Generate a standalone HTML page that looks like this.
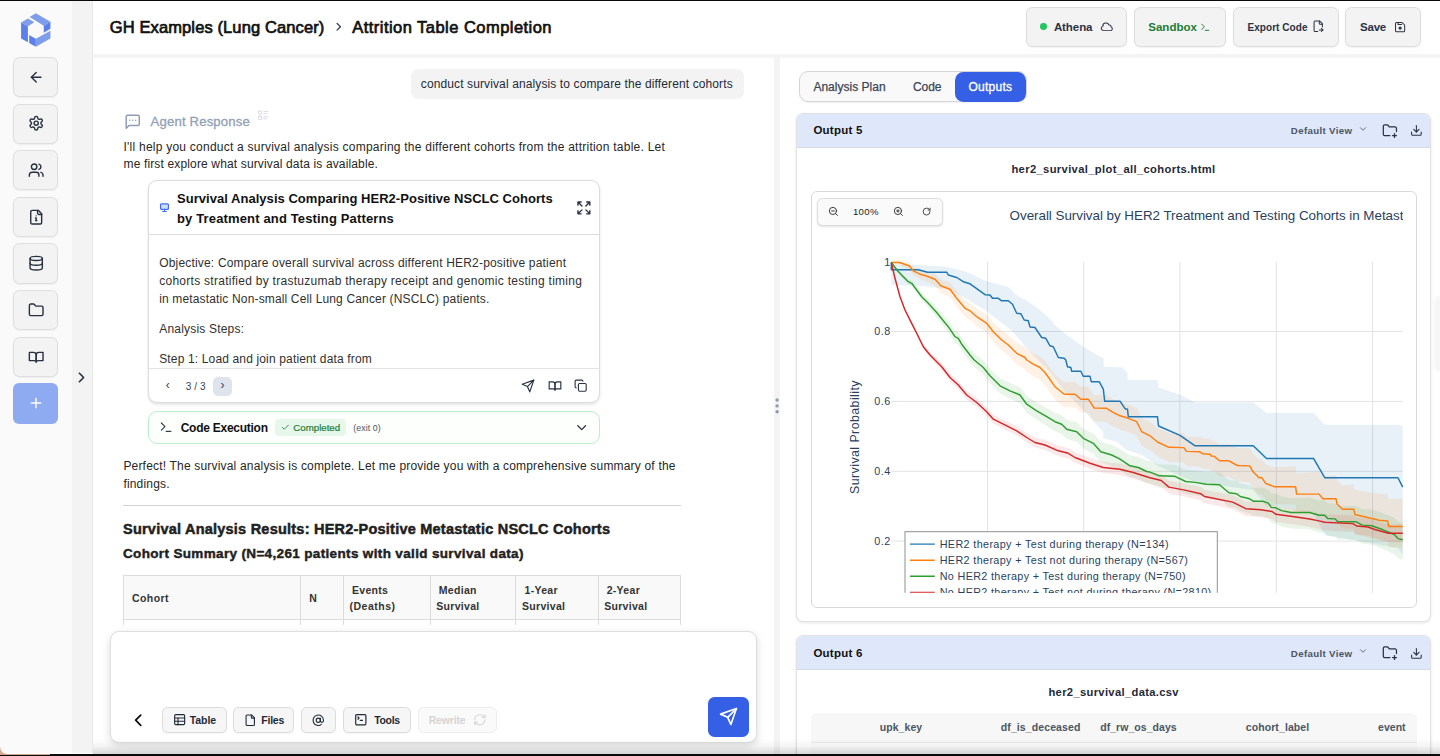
<!DOCTYPE html>
<html><head><meta charset="utf-8"><title>Attrition Table Completion</title>
<style>
html,body{margin:0;padding:0;}
body{width:1440px;height:756px;position:relative;overflow:hidden;background:#fff;font-family:"Liberation Sans",sans-serif;}
.t{position:absolute;white-space:nowrap;line-height:1;font-family:"Liberation Sans",sans-serif;}
.b{position:absolute;box-sizing:border-box;}
.i{position:absolute;overflow:visible;}
</style></head><body>
<div class="b" style="left:0.00px;top:0.00px;width:72.00px;height:756.00px;background:#fafafa;"></div>
<div class="b" style="left:72.00px;top:0.00px;width:21.00px;height:756.00px;background:#f3f3f3;"></div>
<div class="b" style="left:92.00px;top:0.00px;width:1.00px;height:756.00px;background:#e9e9e9;"></div>
<div class="b" style="left:93.00px;top:1.00px;width:1347.00px;height:53.00px;background:#fff;"></div>
<div class="b" style="left:93.00px;top:54.00px;width:1347.00px;height:4.00px;background:#f4f4f4;"></div>
<div class="b" style="left:774.00px;top:58.00px;width:6.40px;height:698.00px;background:#f4f4f4;"></div>
<svg class="i" style="left:0;top:0" width="72" height="56" viewBox="0 0 864 672">
<polygon points="355,205 430,160 605,262 525,308" fill="#7f9de8"/>
<polygon points="525,308 605,262 605,346 525,392" fill="#5c80ea"/>
<polygon points="253,270 335,221 412,266 335,315" fill="#7f9de8"/>
<polygon points="253,270 335,315 335,506 253,462" fill="#5c80ea"/>
<polygon points="350,421 430,466 430,562 350,516" fill="#5c80ea"/>
<polygon points="430,466 605,368 605,462 430,562" fill="#7f9de8"/>
</svg>
<div class="b" style="left:13.00px;top:56.90px;width:45.00px;height:40.20px;background:#f3f3f3;border:1px solid #dedede;border-radius:6.5px;box-shadow:0 1px 1.5px rgba(0,0,0,0.05);"></div>
<svg class="i" style="left:27.60px;top:68.80px;" width="16.4" height="16.4" viewBox="0 0 24 24" fill="none" stroke="#27303f" stroke-width="2.05" stroke-linecap="round" stroke-linejoin="round"><path d="m12 19-7-7 7-7"/><path d="M19 12H5"/></svg>
<div class="b" style="left:13.00px;top:103.54px;width:45.00px;height:40.20px;background:#f3f3f3;border:1px solid #dedede;border-radius:6.5px;box-shadow:0 1px 1.5px rgba(0,0,0,0.05);"></div>
<svg class="i" style="left:27.60px;top:115.44px;" width="16.4" height="16.4" viewBox="0 0 24 24" fill="none" stroke="#27303f" stroke-width="2.05" stroke-linecap="round" stroke-linejoin="round"><path d="M12.22 2h-.44a2 2 0 0 0-2 2v.18a2 2 0 0 1-1 1.73l-.43.25a2 2 0 0 1-2 0l-.15-.08a2 2 0 0 0-2.73.73l-.22.38a2 2 0 0 0 .73 2.73l.15.1a2 2 0 0 1 1 1.72v.51a2 2 0 0 1-1 1.74l-.15.09a2 2 0 0 0-.73 2.73l.22.38a2 2 0 0 0 2.73.73l.15-.08a2 2 0 0 1 2 0l.43.25a2 2 0 0 1 1 1.73V20a2 2 0 0 0 2 2h.44a2 2 0 0 0 2-2v-.18a2 2 0 0 1 1-1.73l.43-.25a2 2 0 0 1 2 0l.15.08a2 2 0 0 0 2.73-.73l.22-.39a2 2 0 0 0-.73-2.73l-.15-.08a2 2 0 0 1-1-1.74v-.5a2 2 0 0 1 1-1.74l.15-.09a2 2 0 0 0 .73-2.73l-.22-.38a2 2 0 0 0-2.73-.73l-.15.08a2 2 0 0 1-2 0l-.43-.25a2 2 0 0 1-1-1.73V4a2 2 0 0 0-2-2z"/><circle cx="12" cy="12" r="3"/></svg>
<div class="b" style="left:13.00px;top:150.18px;width:45.00px;height:40.20px;background:#f3f3f3;border:1px solid #dedede;border-radius:6.5px;box-shadow:0 1px 1.5px rgba(0,0,0,0.05);"></div>
<svg class="i" style="left:27.60px;top:162.08px;" width="16.4" height="16.4" viewBox="0 0 24 24" fill="none" stroke="#27303f" stroke-width="2.05" stroke-linecap="round" stroke-linejoin="round"><path d="M16 21v-2a4 4 0 0 0-4-4H6a4 4 0 0 0-4 4v2"/><circle cx="9" cy="7" r="4"/><path d="M22 21v-2a4 4 0 0 0-3-3.87"/><path d="M16 3.13a4 4 0 0 1 0 7.75"/></svg>
<div class="b" style="left:13.00px;top:196.82px;width:45.00px;height:40.20px;background:#f3f3f3;border:1px solid #dedede;border-radius:6.5px;box-shadow:0 1px 1.5px rgba(0,0,0,0.05);"></div>
<svg class="i" style="left:27.60px;top:208.72px;" width="16.4" height="16.4" viewBox="0 0 24 24" fill="none" stroke="#27303f" stroke-width="2.05" stroke-linecap="round" stroke-linejoin="round"><path d="M15 2H6a2 2 0 0 0-2 2v16a2 2 0 0 0 2 2h12a2 2 0 0 0 2-2V7Z"/><path d="M14 2v4a2 2 0 0 0 2 2h4"/><path d="M12 17v-4h-1"/><path d="M11 17h2"/><path d="M12 10h.01"/></svg>
<div class="b" style="left:13.00px;top:243.46px;width:45.00px;height:40.20px;background:#f3f3f3;border:1px solid #dedede;border-radius:6.5px;box-shadow:0 1px 1.5px rgba(0,0,0,0.05);"></div>
<svg class="i" style="left:27.60px;top:255.36px;" width="16.4" height="16.4" viewBox="0 0 24 24" fill="none" stroke="#27303f" stroke-width="2.05" stroke-linecap="round" stroke-linejoin="round"><ellipse cx="12" cy="5" rx="9" ry="3"/><path d="M3 5V19A9 3 0 0 0 21 19V5"/><path d="M3 12A9 3 0 0 0 21 12"/></svg>
<div class="b" style="left:13.00px;top:290.10px;width:45.00px;height:40.20px;background:#f3f3f3;border:1px solid #dedede;border-radius:6.5px;box-shadow:0 1px 1.5px rgba(0,0,0,0.05);"></div>
<svg class="i" style="left:27.60px;top:302.00px;" width="16.4" height="16.4" viewBox="0 0 24 24" fill="none" stroke="#27303f" stroke-width="2.05" stroke-linecap="round" stroke-linejoin="round"><path d="M20 20a2 2 0 0 0 2-2V8a2 2 0 0 0-2-2h-7.9a2 2 0 0 1-1.69-.9L9.6 3.9A2 2 0 0 0 7.93 3H4a2 2 0 0 0-2 2v13a2 2 0 0 0 2 2Z"/></svg>
<div class="b" style="left:13.00px;top:336.74px;width:45.00px;height:40.20px;background:#f3f3f3;border:1px solid #dedede;border-radius:6.5px;box-shadow:0 1px 1.5px rgba(0,0,0,0.05);"></div>
<svg class="i" style="left:27.60px;top:348.64px;" width="16.4" height="16.4" viewBox="0 0 24 24" fill="none" stroke="#27303f" stroke-width="2.05" stroke-linecap="round" stroke-linejoin="round"><path d="M2 5h6a4 4 0 0 1 4 4v10a3 3 0 0 0-3-2H2z"/><path d="M22 5h-6a4 4 0 0 0-4 4v10a3 3 0 0 1 3-2h7z"/></svg>
<div class="b" style="left:13.00px;top:383.38px;width:45.00px;height:40.20px;background:#8eaaf1;border-radius:6px;"></div>
<svg class="i" style="left:27.80px;top:395.48px;" width="16" height="16" viewBox="0 0 24 24" fill="none" stroke="#ffffff" stroke-width="2.1" stroke-linecap="round" stroke-linejoin="round"><path d="M5 12h14"/><path d="M12 5v14"/></svg>
<svg class="i" style="left:72.50px;top:368.50px;" width="17" height="17" viewBox="0 0 24 24" fill="none" stroke="#1f2937" stroke-width="2.2" stroke-linecap="round" stroke-linejoin="round"><path d="m9 18 6-6-6-6"/></svg>
<div class="t" style="left:109.80px;top:19.00px;font-size:16.5px;font-weight:400;color:#111111;letter-spacing:0.11px;-webkit-text-stroke:0.7px #111;">GH Examples (Lung Cancer)</div>
<svg class="i" style="left:331.55px;top:20.15px;" width="13.5" height="13.5" viewBox="0 0 24 24" fill="none" stroke="#2f3a55" stroke-width="2.3" stroke-linecap="round" stroke-linejoin="round"><path d="m9 18 6-6-6-6"/></svg>
<div class="t" style="left:352.30px;top:19.00px;font-size:16.5px;font-weight:400;color:#111111;letter-spacing:0.46px;-webkit-text-stroke:0.7px #111;">Attrition Table Completion</div>
<div class="b" style="left:1025.60px;top:7.00px;width:101.80px;height:39.50px;background:#f3f3f3;border:1px solid #dcdcdc;border-radius:6.5px;box-shadow:0 1px 1.5px rgba(0,0,0,0.05);"></div>
<div class="b" style="left:1039.80px;top:23.30px;width:6.80px;height:6.80px;background:#22c55e;border-radius:50%;"></div>
<div class="t" style="left:1053.90px;top:22.00px;font-size:11.5px;font-weight:700;color:#2b3245;letter-spacing:-0.08px;">Athena</div>
<svg class="i" style="left:1099.55px;top:19.60px;transform:scaleY(0.9);" width="13.6" height="13.6" viewBox="0 0 24 24" fill="none" stroke="#2b3245" stroke-width="1.9" stroke-linecap="round" stroke-linejoin="round"><path d="M2.25 15a4.5 4.5 0 0 0 4.5 4.5H18a3.75 3.75 0 0 0 1.332-7.257 3 3 0 0 0-3.758-3.848 5.25 5.25 0 0 0-10.233 2.33A4.502 4.502 0 0 0 2.25 15Z"/></svg>
<div class="b" style="left:1134.00px;top:7.00px;width:92.00px;height:39.50px;background:#f3f3f3;border:1px solid #dcdcdc;border-radius:6.5px;box-shadow:0 1px 1.5px rgba(0,0,0,0.05);"></div>
<div class="t" style="left:1148.30px;top:22.00px;font-size:11.5px;font-weight:700;color:#1c7c35;letter-spacing:0px;">Sandbox</div>
<svg class="i" style="left:1200.25px;top:21.95px;" width="10.5" height="10.5" viewBox="0 0 24 24" fill="none" stroke="#1c7c35" stroke-width="2.2" stroke-linecap="round" stroke-linejoin="round"><polyline points="4 17 10 11 4 5"/><line x1="12" x2="20" y1="19" y2="19"/></svg>
<div class="b" style="left:1232.60px;top:7.00px;width:106.20px;height:39.50px;background:#f3f3f3;border:1px solid #dcdcdc;border-radius:6.5px;box-shadow:0 1px 1.5px rgba(0,0,0,0.05);"></div>
<div class="t" style="left:1247.50px;top:23.00px;font-size:10px;font-weight:700;color:#2b3245;letter-spacing:0.05px;">Export Code</div>
<svg class="i" style="left:1312.15px;top:20.45px;" width="12.5" height="12.5" viewBox="0 0 24 24" fill="none" stroke="#2b3245" stroke-width="2" stroke-linecap="round" stroke-linejoin="round"><path d="M14 2v4a2 2 0 0 0 2 2h4"/><path d="M11 22H6a2 2 0 0 1-2-2V4a2 2 0 0 1 2-2h9l5 5v6"/><path d="M14 19h7"/><path d="m18 16 3 3-3 3"/></svg>
<div class="b" style="left:1345.30px;top:7.00px;width:75.30px;height:39.50px;background:#f3f3f3;border:1px solid #dcdcdc;border-radius:6.5px;box-shadow:0 1px 1.5px rgba(0,0,0,0.05);"></div>
<div class="t" style="left:1360.00px;top:22.00px;font-size:11.5px;font-weight:700;color:#2b3245;letter-spacing:-0.2px;">Save</div>
<svg class="i" style="left:1394.00px;top:20.75px;color:#2b3245;" width="12.2" height="12.2" viewBox="0 0 24 24" fill="none" stroke="#2b3245" stroke-width="2" stroke-linecap="round" stroke-linejoin="round"><path d="M15.2 3a2 2 0 0 1 1.4.6l3.8 3.8a2 2 0 0 1 .6 1.4V19a2 2 0 0 1-2 2H5a2 2 0 0 1-2-2V5a2 2 0 0 1 2-2z"/><path d="M8 3v4h7"/><circle cx="12" cy="14" r="2.2" fill="currentColor"/></svg>
<div class="b" style="left:410.50px;top:69.00px;width:333.00px;height:29.50px;background:#f3f3f4;border-radius:7px;"></div>
<div class="t" style="left:420.80px;top:78.00px;font-size:12px;font-weight:400;color:#1f2937;letter-spacing:0.116px;">conduct survival analysis to compare the different cohorts</div>
<svg class="i" style="left:124.35px;top:112.55px;" width="17.5" height="17.5" viewBox="0 0 24 24" fill="none" stroke="#8f9ab4" stroke-width="2" stroke-linecap="round" stroke-linejoin="round"><path d="M21 15a2 2 0 0 1-2 2H7l-4 4V5a2 2 0 0 1 2-2h14a2 2 0 0 1 2 2z"/><path d="M8 10h.01"/><path d="M12 10h.01"/><path d="M16 10h.01"/></svg>
<div class="t" style="left:150.60px;top:115.00px;font-size:13.1px;font-weight:400;color:#929eb5;letter-spacing:0.18px;-webkit-text-stroke:0.3px #929eb5;">Agent Response</div>
<svg class="i" style="left:257.35px;top:109.25px;" width="12.5" height="12.5" viewBox="0 0 24 24" fill="none" stroke="#d3d7df" stroke-width="1.8" stroke-linecap="round" stroke-linejoin="round"><rect x="3" y="4" width="6" height="6" rx="1"/><rect x="3" y="14" width="6" height="6" rx="1"/><path d="M13 5h8"/><path d="M13 9h5"/><path d="M13 15h8"/><path d="M13 19h5"/></svg>
<div class="t" style="left:123.50px;top:141.00px;font-size:12px;font-weight:400;color:#262626;letter-spacing:0.238px;">I'll help you conduct a survival analysis comparing the different cohorts from the attrition table. Let</div>
<div class="t" style="left:123.50px;top:158.00px;font-size:12px;font-weight:400;color:#262626;letter-spacing:0.145px;">me first explore what survival data is available.</div>
<div class="b" style="left:148.30px;top:180.30px;width:451.90px;height:223.10px;background:#fff;border:1px solid #dcdcdc;border-radius:9px;box-shadow:0 1.5px 3px rgba(0,0,0,0.10);"></div>
<div class="b" style="left:149.00px;top:234.00px;width:450.50px;height:1.00px;background:#dddddd;"></div>
<div class="b" style="left:149.00px;top:367.60px;width:450.50px;height:1.00px;background:#e3e3e3;"></div>
<svg class="i" style="left:158px;top:201px" width="14" height="14" viewBox="0 0 14 14"><rect x="2.55" y="2.8" width="7.9" height="5.6" rx="1" fill="#cfdcfc" stroke="#3f6df0" stroke-width="1.2"/><path d="M6.5 8.6v1.7M4.7 10.5h3.6" stroke="#3f6df0" stroke-width="1.1" stroke-linecap="round" fill="none"/></svg>
<div class="t" style="left:177.00px;top:192.00px;font-size:13px;font-weight:700;color:#111111;letter-spacing:0.036px;">Survival Analysis Comparing HER2-Positive NSCLC Cohorts</div>
<div class="t" style="left:177.00px;top:212.00px;font-size:13px;font-weight:700;color:#111111;letter-spacing:0.147px;">by Treatment and Testing Patterns</div>
<svg class="i" style="left:575.70px;top:199.70px;" width="15.8" height="15.8" viewBox="0 0 24 24" fill="none" stroke="#2b3245" stroke-width="2.1" stroke-linecap="round" stroke-linejoin="round"><path d="m21 21-6-6m6 6v-4.8m0 4.8h-4.8"/><path d="M3 16.2V21m0 0h4.8M3 21l6-6"/><path d="M21 7.8V3m0 0h-4.8M21 3l-6 6"/><path d="M3 7.8V3m0 0h4.8M3 3l6 6"/></svg>
<div class="t" style="left:159.20px;top:257.00px;font-size:12px;font-weight:400;color:#303030;letter-spacing:0.185px;">Objective: Compare overall survival across different HER2-positive patient</div>
<div class="t" style="left:159.20px;top:275.00px;font-size:12px;font-weight:400;color:#303030;letter-spacing:0.274px;">cohorts stratified by trastuzumab therapy receipt and genomic testing timing</div>
<div class="t" style="left:159.20px;top:293.00px;font-size:12px;font-weight:400;color:#303030;letter-spacing:0.152px;">in metastatic Non-small Cell Lung Cancer (NSCLC) patients.</div>
<div class="t" style="left:159.20px;top:323.00px;font-size:12px;font-weight:400;color:#303030;letter-spacing:0.2px;">Analysis Steps:</div>
<div class="t" style="left:159.20px;top:353.00px;font-size:12px;font-weight:400;color:#303030;letter-spacing:0.15px;">Step 1: Load and join patient data from</div>
<div class="t" style="left:165.80px;top:379.00px;font-size:12px;font-weight:400;color:#374151;letter-spacing:0px;">&#8249;</div>
<div class="t" style="left:185.70px;top:382.00px;font-size:10px;font-weight:400;color:#374151;letter-spacing:0.1px;">3 / 3</div>
<div class="b" style="left:213.30px;top:376.70px;width:19.00px;height:19.00px;background:#dfe3ec;border-radius:5px;"></div>
<div class="t" style="left:220.40px;top:379.00px;font-size:12px;font-weight:400;color:#374151;letter-spacing:0px;">&#8250;</div>
<svg class="i" style="left:520.70px;top:378.70px;" width="14" height="14" viewBox="0 0 24 24" fill="none" stroke="#2b3245" stroke-width="2" stroke-linecap="round" stroke-linejoin="round"><path d="m22 2-7 20-4-9-9-4Z"/><path d="M22 2 11 13"/></svg>
<svg class="i" style="left:547.50px;top:378.90px;" width="14" height="14" viewBox="0 0 24 24" fill="none" stroke="#2b3245" stroke-width="2" stroke-linecap="round" stroke-linejoin="round"><path d="M2 5h6a4 4 0 0 1 4 4v10a3 3 0 0 0-3-2H2z"/><path d="M22 5h-6a4 4 0 0 0-4 4v10a3 3 0 0 1 3-2h7z"/></svg>
<svg class="i" style="left:574.45px;top:379.10px;" width="13.3" height="13.3" viewBox="0 0 24 24" fill="none" stroke="#2b3245" stroke-width="2" stroke-linecap="round" stroke-linejoin="round"><rect width="14" height="14" x="8" y="8" rx="2" ry="2"/><path d="M4 16c-1.1 0-2-.9-2-2V4c0-1.1.9-2 2-2h10c1.1 0 2 .9 2 2"/></svg>
<div class="b" style="left:148.30px;top:410.70px;width:451.90px;height:33.60px;background:#fdfffd;border:1px solid #b9efc9;border-radius:9px;"></div>
<svg class="i" style="left:159.15px;top:420.45px;" width="14.3" height="14.3" viewBox="0 0 24 24" fill="none" stroke="#374151" stroke-width="2" stroke-linecap="round" stroke-linejoin="round"><polyline points="4 17 10 11 4 5"/><line x1="12" x2="20" y1="19" y2="19"/></svg>
<div class="t" style="left:180.70px;top:422.00px;font-size:12px;font-weight:700;color:#111111;letter-spacing:-0.26px;">Code Execution</div>
<div class="b" style="left:275.00px;top:419.30px;width:70.70px;height:16.40px;background:#e6f8ec;border-radius:4px;"></div>
<svg class="i" style="left:280.60px;top:423.20px;" width="8.8" height="8.8" viewBox="0 0 24 24" fill="none" stroke="#1c7c35" stroke-width="2.3" stroke-linecap="round" stroke-linejoin="round"><path d="M20 6 9 17l-5-5"/></svg>
<div class="t" style="left:293.30px;top:423.00px;font-size:9.7px;font-weight:400;color:#1c7c35;letter-spacing:0.0px;-webkit-text-stroke:0.2px #1c7c35;">Completed</div>
<div class="t" style="left:353.30px;top:424.00px;font-size:8.8px;font-weight:400;color:#4b5563;letter-spacing:0.06px;">(exit 0)</div>
<svg class="i" style="left:573.50px;top:419.60px;" width="15.4" height="15.4" viewBox="0 0 24 24" fill="none" stroke="#2b3245" stroke-width="2" stroke-linecap="round" stroke-linejoin="round"><path d="m6 9 6 6 6-6"/></svg>
<div class="t" style="left:123.40px;top:460.00px;font-size:12px;font-weight:400;color:#262626;letter-spacing:0.186px;">Perfect! The survival analysis is complete. Let me provide you with a comprehensive summary of the</div>
<div class="t" style="left:123.40px;top:478.00px;font-size:12px;font-weight:400;color:#262626;letter-spacing:0.186px;">findings.</div>
<div class="b" style="left:123.00px;top:505.00px;width:558.00px;height:1.00px;background:#d4d4d4;"></div>
<div class="t" style="left:123.00px;top:522.00px;font-size:14.5px;font-weight:700;color:#1f1f1f;letter-spacing:0.227px;-webkit-text-stroke:0.5px #1f1f1f;">Survival Analysis Results: HER2-Positive Metastatic NSCLC Cohorts</div>
<div class="t" style="left:123.00px;top:547.00px;font-size:13.5px;font-weight:700;color:#1f1f1f;letter-spacing:0.346px;-webkit-text-stroke:0.45px #1f1f1f;">Cohort Summary (N=4,261 patients with valid survival data)</div>
<div class="b" style="left:123.00px;top:575.00px;width:558.30px;height:44.80px;background:#f9f9f9;border:1px solid #dcdcdc;"></div>
<div class="b" style="left:123.00px;top:619.30px;width:558.30px;height:5.70px;background:#fff;border-left:1px solid #dcdcdc;border-right:1px solid #dcdcdc;"></div>
<div class="b" style="left:300.30px;top:575.00px;width:1.00px;height:50.00px;background:#dcdcdc;"></div>
<div class="b" style="left:343.40px;top:575.00px;width:1.00px;height:50.00px;background:#dcdcdc;"></div>
<div class="b" style="left:430.40px;top:575.00px;width:1.00px;height:50.00px;background:#dcdcdc;"></div>
<div class="b" style="left:515.30px;top:575.00px;width:1.00px;height:50.00px;background:#dcdcdc;"></div>
<div class="b" style="left:597.50px;top:575.00px;width:1.00px;height:50.00px;background:#dcdcdc;"></div>
<div class="b" style="left:123.00px;top:619.30px;width:558.30px;height:1.00px;background:#dcdcdc;"></div>
<div class="t" style="left:132.00px;top:593.00px;font-size:10.5px;font-weight:700;color:#333333;letter-spacing:0.43px;">Cohort</div>
<div class="t" style="left:309.20px;top:593.00px;font-size:10.5px;font-weight:700;color:#333333;letter-spacing:0px;">N</div>
<div class="t" style="left:352.00px;top:585.00px;font-size:10.5px;font-weight:700;color:#333333;letter-spacing:0.3px;">Events</div>
<div class="t" style="left:349.50px;top:601.00px;font-size:10.5px;font-weight:700;color:#333333;letter-spacing:0.5px;">(Deaths)</div>
<div class="t" style="left:438.80px;top:585.00px;font-size:10.5px;font-weight:700;color:#333333;letter-spacing:0.3px;">Median</div>
<div class="t" style="left:436.30px;top:601.00px;font-size:10.5px;font-weight:700;color:#333333;letter-spacing:0.3px;">Survival</div>
<div class="t" style="left:524.50px;top:585.00px;font-size:10.5px;font-weight:700;color:#333333;letter-spacing:0.3px;">1-Year</div>
<div class="t" style="left:522.00px;top:601.00px;font-size:10.5px;font-weight:700;color:#333333;letter-spacing:0.3px;">Survival</div>
<div class="t" style="left:606.70px;top:585.00px;font-size:10.5px;font-weight:700;color:#333333;letter-spacing:0.3px;">2-Year</div>
<div class="t" style="left:604.20px;top:601.00px;font-size:10.5px;font-weight:700;color:#333333;letter-spacing:0.3px;">Survival</div>
<div class="b" style="left:110.20px;top:631.10px;width:646.40px;height:112.10px;background:#fff;border:1px solid #dedede;border-radius:9px;box-shadow:0 3px 8px rgba(0,0,0,0.14);"></div>
<svg class="i" style="left:127.80px;top:709.80px;" width="20.4" height="20.4" viewBox="0 0 24 24" fill="none" stroke="#0a0a0a" stroke-width="2" stroke-linecap="round" stroke-linejoin="round"><path d="m15 18-6-6 6-6"/></svg>
<div class="b" style="left:162.10px;top:706.90px;width:64.50px;height:25.70px;background:#f6f6f6;border:1px solid #dbdbdb;border-radius:5.5px;box-shadow:0 1px 1px rgba(0,0,0,0.04);"></div>
<svg class="i" style="left:172.80px;top:713.30px;" width="13.3" height="13.3" viewBox="0 0 24 24" fill="none" stroke="#1f2937" stroke-width="2" stroke-linecap="round" stroke-linejoin="round"><rect width="18" height="18" x="3" y="3" rx="2"/><path d="M3 9h18"/><path d="M3 15h18"/><path d="M9 9v12"/></svg>
<div class="t" style="left:189.80px;top:715.00px;font-size:10.5px;font-weight:700;color:#1f2937;letter-spacing:-0.09px;">Table</div>
<div class="b" style="left:233.30px;top:706.90px;width:61.20px;height:25.70px;background:#f6f6f6;border:1px solid #dbdbdb;border-radius:5.5px;box-shadow:0 1px 1px rgba(0,0,0,0.04);"></div>
<svg class="i" style="left:244.25px;top:713.65px;" width="12.5" height="12.5" viewBox="0 0 24 24" fill="none" stroke="#1f2937" stroke-width="2.1" stroke-linecap="round" stroke-linejoin="round"><path d="M15 2H6a2 2 0 0 0-2 2v16a2 2 0 0 0 2 2h12a2 2 0 0 0 2-2V7Z"/><path d="M14 2v4a2 2 0 0 0 2 2h4"/></svg>
<div class="t" style="left:261.30px;top:715.00px;font-size:10.5px;font-weight:700;color:#1f2937;letter-spacing:-0.25px;">Files</div>
<div class="b" style="left:301.20px;top:706.90px;width:35.00px;height:25.70px;background:#f6f6f6;border:1px solid #dbdbdb;border-radius:5.5px;box-shadow:0 1px 1px rgba(0,0,0,0.04);"></div>
<svg class="i" style="left:312.45px;top:713.65px;" width="12.5" height="12.5" viewBox="0 0 24 24" fill="none" stroke="#1f2937" stroke-width="2.1" stroke-linecap="round" stroke-linejoin="round"><circle cx="12" cy="12" r="4"/><path d="M16 8v5a3 3 0 0 0 6 0v-1a10 10 0 1 0-4 8"/></svg>
<div class="b" style="left:343.20px;top:706.90px;width:67.70px;height:25.70px;background:#f6f6f6;border:1px solid #dbdbdb;border-radius:5.5px;box-shadow:0 1px 1px rgba(0,0,0,0.04);"></div>
<svg class="i" style="left:353.60px;top:713.10px;" width="13.6" height="13.6" viewBox="0 0 24 24" fill="none" stroke="#1f2937" stroke-width="2.1" stroke-linecap="round" stroke-linejoin="round"><path d="m7 11 2-2-2-2"/><path d="M11 13h4"/><rect width="18" height="18" x="3" y="3" rx="2" ry="2"/></svg>
<div class="t" style="left:374.20px;top:715.00px;font-size:10.5px;font-weight:700;color:#1f2937;letter-spacing:-0.33px;">Tools</div>
<div class="b" style="left:417.90px;top:706.90px;width:78.80px;height:25.70px;background:#fafafa;border:1px solid #ececec;border-radius:5.5px;"></div>
<div class="t" style="left:428.70px;top:715.00px;font-size:10.5px;font-weight:700;color:#d4d4d4;letter-spacing:-0.16px;">Rewrite</div>
<svg class="i" style="left:473.20px;top:713.10px;" width="13.6" height="13.6" viewBox="0 0 24 24" fill="none" stroke="#d6d6d6" stroke-width="2" stroke-linecap="round" stroke-linejoin="round"><path d="M3 12a9 9 0 0 1 9-9 9.75 9.75 0 0 1 6.74 2.74L21 8"/><path d="M21 3v5h-5"/><path d="M21 12a9 9 0 0 1-9 9 9.75 9.75 0 0 1-6.74-2.74L3 16"/><path d="M8 16H3v5"/></svg>
<div class="b" style="left:707.50px;top:696.90px;width:41.80px;height:40.10px;background:#3560e5;border-radius:6.5px;"></div>
<svg class="i" style="left:718.90px;top:707.10px;" width="19" height="19" viewBox="0 0 24 24" fill="none" stroke="#ffffff" stroke-width="2.1" stroke-linecap="round" stroke-linejoin="round"><path d="m22 2-7 20-4-9-9-4Z"/><path d="M22 2 11 13"/></svg>
<svg class="i" style="left:770px;top:390px" width="14" height="30" viewBox="0 0 14 30"><circle cx="7.1" cy="10" r="1.7" fill="#9299ad"/><circle cx="7.1" cy="15.899999999999977" r="1.7" fill="#9299ad"/><circle cx="7.1" cy="21.69999999999999" r="1.7" fill="#9299ad"/></svg>
<div class="b" style="left:799.40px;top:71.30px;width:227.20px;height:31.00px;background:#f9f9f9;border:1px solid #d6d6d6;border-radius:9px;box-shadow:0 1px 1.5px rgba(0,0,0,0.05);"></div>
<div class="b" style="left:954.60px;top:72.10px;width:71.80px;height:29.60px;background:#3560e5;border-radius:8.5px;"></div>
<div class="t" style="left:813.40px;top:81.00px;font-size:12px;font-weight:400;color:#3b4556;letter-spacing:0.02px;-webkit-text-stroke:0.25px #3b4556;">Analysis Plan</div>
<div class="t" style="left:912.90px;top:81.00px;font-size:12px;font-weight:400;color:#3b4556;letter-spacing:-0.05px;-webkit-text-stroke:0.25px #3b4556;">Code</div>
<div class="t" style="left:968.50px;top:81.00px;font-size:12px;font-weight:400;color:#ffffff;letter-spacing:0.24px;-webkit-text-stroke:0.3px #fff;">Outputs</div>
<div class="b" style="left:796.00px;top:113.00px;width:635.00px;height:509.00px;background:#fff;border:1px solid #e2e2e2;border-radius:7px;box-shadow:0 1px 3px rgba(0,0,0,0.10);overflow:hidden;"></div>
<div class="b" style="left:797.00px;top:114.00px;width:633.00px;height:34.00px;background:#dfe7fb;border-radius:6px 6px 0 0;border-bottom:1px solid #d5dbea;"></div>
<div class="t" style="left:813.40px;top:125.00px;font-size:11.5px;font-weight:700;color:#111111;letter-spacing:0.24px;">Output 5</div>
<div class="t" style="left:1290.80px;top:126.00px;font-size:9.7px;font-weight:700;color:#4b5563;letter-spacing:0.35px;">Default View</div>
<svg class="i" style="left:1358.10px;top:123.60px;" width="10" height="10" viewBox="0 0 24 24" fill="none" stroke="#4b5563" stroke-width="2" stroke-linecap="round" stroke-linejoin="round"><path d="m6 9 6 6 6-6"/></svg>
<svg class="i" style="left:1381.90px;top:122.55px;" width="15.8" height="15.8" viewBox="0 0 24 24" fill="none" stroke="#2b3245" stroke-width="1.9" stroke-linecap="round" stroke-linejoin="round"><path d="M12 19H4a2 2 0 0 1-2-2V5a2 2 0 0 1 2-2h3.9a2 2 0 0 1 1.7.9l.8 1.2a2 2 0 0 0 1.7.9H20a2 2 0 0 1 2 2v5"/><path d="M16 19h6"/><path d="M19 16v6"/></svg>
<svg class="i" style="left:1409.70px;top:124.05px;" width="12.8" height="12.8" viewBox="0 0 24 24" fill="none" stroke="#2b3245" stroke-width="2" stroke-linecap="round" stroke-linejoin="round"><path d="M21 15v4a2 2 0 0 1-2 2H5a2 2 0 0 1-2-2v-4"/><polyline points="7 10 12 15 17 10"/><line x1="12" x2="12" y1="15" y2="3"/></svg>
<div class="t" style="left:813.50px;width:600px;text-align:center;top:164.00px;font-size:11.2px;font-weight:700;color:#1f2937;letter-spacing:0.363px;">her2_survival_plot_all_cohorts.html</div>
<div class="b" style="left:810.70px;top:191.20px;width:606.10px;height:416.80px;background:#fff;border:1px solid #d9d9d9;border-radius:6px;"></div>
<div class="b" style="left:816.80px;top:198.00px;width:126.60px;height:27.60px;background:#fafafa;border:1px solid #dddddd;border-radius:5.5px;box-shadow:0 1px 2px rgba(0,0,0,0.12);"></div>
<svg class="i" style="left:828.10px;top:206.20px;" width="10.8" height="10.8" viewBox="0 0 24 24" fill="none" stroke="#333" stroke-width="2.1" stroke-linecap="round" stroke-linejoin="round"><circle cx="11" cy="11" r="8"/><line x1="21" x2="16.65" y1="21" y2="16.65"/><line x1="8" x2="14" y1="11" y2="11"/></svg>
<div class="t" style="left:852.90px;top:207.00px;font-size:9.6px;font-weight:400;color:#222;letter-spacing:0.35px;">100%</div>
<svg class="i" style="left:893.00px;top:206.20px;" width="10.8" height="10.8" viewBox="0 0 24 24" fill="none" stroke="#333" stroke-width="2.1" stroke-linecap="round" stroke-linejoin="round"><circle cx="11" cy="11" r="8"/><line x1="21" x2="16.65" y1="21" y2="16.65"/><line x1="8" x2="14" y1="11" y2="11"/><line x1="11" x2="11" y1="8" y2="14"/></svg>
<svg class="i" style="left:922.40px;top:207.20px;" width="9.2" height="9.2" viewBox="0 0 24 24" fill="none" stroke="#333" stroke-width="2.3" stroke-linecap="round" stroke-linejoin="round"><path d="M21 12a9 9 0 1 1-9-9c2.52 0 4.93 1 6.74 2.74L21 8"/><path d="M21 3v5h-5"/></svg>
<div class="b" style="left:796.00px;top:635.00px;width:635.00px;height:165.00px;background:#fff;border:1px solid #e2e2e2;border-radius:7px 7px 0 0;box-shadow:0 1px 3px rgba(0,0,0,0.10);overflow:hidden;"></div>
<div class="b" style="left:797.00px;top:636.00px;width:633.00px;height:34.00px;background:#dfe7fb;border-radius:6px 6px 0 0;border-bottom:1px solid #d5dbea;"></div>
<div class="t" style="left:813.40px;top:648.00px;font-size:11.5px;font-weight:700;color:#111111;letter-spacing:0.24px;">Output 6</div>
<div class="t" style="left:1290.80px;top:649.00px;font-size:9.7px;font-weight:700;color:#4b5563;letter-spacing:0.35px;">Default View</div>
<svg class="i" style="left:1358.10px;top:646.20px;" width="10" height="10" viewBox="0 0 24 24" fill="none" stroke="#4b5563" stroke-width="2" stroke-linecap="round" stroke-linejoin="round"><path d="m6 9 6 6 6-6"/></svg>
<svg class="i" style="left:1381.90px;top:645.15px;" width="15.8" height="15.8" viewBox="0 0 24 24" fill="none" stroke="#2b3245" stroke-width="1.9" stroke-linecap="round" stroke-linejoin="round"><path d="M12 19H4a2 2 0 0 1-2-2V5a2 2 0 0 1 2-2h3.9a2 2 0 0 1 1.7.9l.8 1.2a2 2 0 0 0 1.7.9H20a2 2 0 0 1 2 2v5"/><path d="M16 19h6"/><path d="M19 16v6"/></svg>
<svg class="i" style="left:1409.70px;top:646.65px;" width="12.8" height="12.8" viewBox="0 0 24 24" fill="none" stroke="#2b3245" stroke-width="2" stroke-linecap="round" stroke-linejoin="round"><path d="M21 15v4a2 2 0 0 1-2 2H5a2 2 0 0 1-2-2v-4"/><polyline points="7 10 12 15 17 10"/><line x1="12" x2="12" y1="15" y2="3"/></svg>
<div class="t" style="left:813.70px;width:600px;text-align:center;top:687.00px;font-size:11.2px;font-weight:700;color:#1f2937;letter-spacing:0.334px;">her2_survival_data.csv</div>
<div class="b" style="left:810.60px;top:713.00px;width:606.40px;height:29.00px;background:#f7f7f7;border-radius:6px 6px 0 0;"></div>
<div class="b" style="left:810.60px;top:742.00px;width:606.40px;height:1.00px;background:#ececec;"></div>
<div class="b" style="left:810.60px;top:743.00px;width:606.40px;height:13.00px;background:#fcfcfc;"></div>
<div class="t" style="left:879.80px;top:722.00px;font-size:10.5px;font-weight:700;color:#4b5563;letter-spacing:0.05px;">upk_key</div>
<div class="t" style="left:1000.80px;top:722.00px;font-size:10.5px;font-weight:700;color:#4b5563;letter-spacing:0.1px;">df_is_deceased</div>
<div class="t" style="left:1100.20px;top:722.00px;font-size:10.5px;font-weight:700;color:#4b5563;letter-spacing:0.05px;">df_rw_os_days</div>
<div class="t" style="left:1245.70px;top:722.00px;font-size:10.5px;font-weight:700;color:#4b5563;letter-spacing:0.1px;">cohort_label</div>
<div class="t" style="left:1378.10px;top:722.00px;font-size:10.5px;font-weight:700;color:#4b5563;letter-spacing:0.01px;">event</div>
<svg class="i" style="left:0;top:0" width="1440" height="756" viewBox="0 0 1440 756">
<defs><clipPath id="pc"><rect x="818" y="228" width="585" height="364.7"/></clipPath></defs>
<g clip-path="url(#pc)">
<line x1="987.5" y1="262" x2="987.5" y2="600" stroke="#e3e3e6" stroke-width="1"/>
<line x1="1083.7" y1="262" x2="1083.7" y2="600" stroke="#e3e3e6" stroke-width="1"/>
<line x1="1179.9" y1="262" x2="1179.9" y2="600" stroke="#e3e3e6" stroke-width="1"/>
<line x1="1276.3" y1="262" x2="1276.3" y2="600" stroke="#e3e3e6" stroke-width="1"/>
<line x1="1372.6" y1="262" x2="1372.6" y2="600" stroke="#e3e3e6" stroke-width="1"/>
<line x1="891.3" y1="331.5" x2="1402.7" y2="331.5" stroke="#e3e3e6" stroke-width="1"/>
<line x1="891.3" y1="401.4" x2="1402.7" y2="401.4" stroke="#e3e3e6" stroke-width="1"/>
<line x1="891.3" y1="471.3" x2="1402.7" y2="471.3" stroke="#e3e3e6" stroke-width="1"/>
<line x1="891.3" y1="541.1" x2="1402.7" y2="541.1" stroke="#e3e3e6" stroke-width="1"/>
<polygon points="891.3,264.7 920.0,265.0 946.7,266.7 956.7,269.2 970.0,273.3 985.0,280.8 1008.3,286.7 1015.0,294.2 1028.3,301.7 1036.7,307.5 1046.7,315.8 1056.7,326.7 1066.7,335.0 1083.3,346.7 1091.7,351.7 1103.3,358.3 1104.2,366.7 1122.5,367.5 1127.5,373.3 1127.5,380.0 1157.5,380.0 1158.5,387.5 1180.0,394.7 1195.1,402.5 1253.3,402.5 1266.5,412.9 1313.5,412.9 1324.7,424.7 1398.0,424.7 1402.7,426.0 1402.7,555.0 1398.0,548.0 1324.7,535.0 1313.0,512.0 1266.0,505.0 1253.0,490.0 1195.0,482.0 1160.0,466.7 1141.7,455.0 1126.7,450.0 1116.7,441.7 1103.3,438.3 1103.3,432.0 1083.0,410.0 1065.0,392.0 1050.0,372.0 1030.0,352.0 1012.5,331.3 985.0,310.0 963.0,297.0 946.7,289.0 920.0,285.8 891.3,285.0" fill="rgba(31,119,180,0.10)"/>
<polygon points="891.3,260.5 899.2,259.8 909.2,262.3 913.3,266.9 920.0,269.7 925.8,270.9 935.0,273.5 940.8,279.6 950.0,282.2 956.7,291.0 965.0,300.6 970.0,302.8 976.7,308.4 986.7,314.6 993.3,322.6 1001.7,330.5 1008.3,335.2 1016.7,343.1 1025.0,346.9 1026.7,349.3 1033.3,353.2 1040.0,356.2 1045.0,361.0 1055.0,374.7 1064.2,382.0 1075.0,381.8 1080.8,386.7 1088.3,386.5 1094.2,395.2 1106.7,395.2 1111.7,398.5 1120.0,402.5 1128.3,404.8 1136.7,408.0 1141.7,417.9 1150.0,421.8 1157.5,427.9 1168.8,432.9 1183.8,432.9 1186.6,436.7 1199.8,436.8 1202.6,438.5 1210.1,438.6 1211.1,440.4 1213.9,440.3 1219.5,444.6 1228.9,444.1 1237.4,448.3 1249.6,447.9 1253.3,453.9 1259.0,459.2 1261.8,459.0 1265.6,464.4 1274.0,467.3 1295.6,466.0 1296.6,473.3 1319.1,471.8 1322.9,476.2 1336.0,475.3 1337.0,480.5 1342.6,485.4 1353.9,484.6 1354.8,489.7 1379.2,493.8 1387.7,494.0 1388.6,499.3 1402.7,498.4 1402.7,547.4 1388.6,547.0 1387.7,541.6 1379.2,540.5 1354.8,534.1 1353.9,528.9 1342.6,528.6 1337.0,523.1 1336.0,517.9 1322.9,517.5 1319.1,512.7 1296.6,512.0 1295.6,504.6 1274.0,503.9 1265.6,500.3 1261.8,494.6 1259.0,494.5 1253.3,488.7 1249.6,482.4 1237.4,481.6 1228.9,476.7 1219.5,476.4 1213.9,471.5 1211.1,471.4 1210.1,469.5 1202.6,468.8 1199.8,466.8 1186.6,466.2 1183.8,462.4 1168.8,461.9 1157.5,456.4 1150.0,450.1 1141.7,445.9 1136.7,435.8 1128.3,432.3 1120.0,429.7 1111.7,425.5 1106.7,422.0 1094.2,421.5 1088.3,412.7 1080.8,412.6 1075.0,407.5 1064.2,407.3 1055.0,399.7 1045.0,385.0 1040.0,379.8 1033.3,376.2 1026.7,371.7 1025.0,369.1 1016.7,364.5 1008.3,355.8 1001.7,350.5 993.3,341.8 986.7,333.0 976.7,326.0 970.0,319.8 965.0,317.0 956.7,306.6 950.0,297.2 940.8,292.9 935.0,285.7 925.8,281.3 920.0,279.1 913.3,275.1 909.2,269.7 899.2,265.3 891.3,264.5" fill="rgba(255,127,14,0.11)"/>
<polygon points="891.3,261.5 897.5,269.2 903.3,274.7 908.3,279.2 911.7,280.5 921.7,293.1 928.3,299.1 936.7,307.6 943.3,315.4 948.3,320.8 955.0,330.6 958.3,332.1 961.7,337.9 970.0,348.4 974.2,353.3 983.3,360.5 990.0,368.7 1000.0,378.4 1010.0,383.1 1020.0,387.0 1026.7,396.0 1036.7,402.3 1046.7,407.9 1055.0,412.7 1061.7,415.1 1066.7,420.0 1076.7,422.3 1083.3,428.7 1093.3,433.5 1100.8,441.8 1111.7,444.8 1120.0,448.9 1130.0,455.2 1138.3,456.8 1146.7,460.6 1150.0,461.1 1159.4,464.6 1174.4,464.7 1185.7,469.8 1195.1,470.5 1206.4,472.1 1219.5,472.3 1228.9,480.0 1236.4,480.8 1240.2,483.5 1249.6,485.6 1253.3,487.9 1262.7,487.6 1268.4,489.4 1271.2,493.6 1275.9,493.9 1281.5,496.6 1290.9,498.2 1309.7,497.8 1319.1,500.4 1324.7,500.2 1327.6,503.3 1335.1,503.6 1337.9,506.3 1355.8,505.8 1362.3,509.1 1371.7,509.5 1383.0,513.3 1394.3,517.7 1398.0,521.7 1402.7,522.8 1402.7,559.8 1398.0,558.5 1394.3,554.2 1383.0,549.1 1371.7,544.7 1362.3,543.7 1355.8,540.1 1337.9,539.5 1335.1,536.6 1327.6,535.9 1324.7,532.6 1319.1,532.4 1309.7,529.3 1290.9,528.6 1281.5,526.4 1275.9,523.4 1271.2,522.9 1268.4,518.5 1262.7,516.4 1253.3,516.0 1249.6,513.5 1240.2,510.9 1236.4,508.0 1228.9,506.7 1219.5,498.5 1206.4,497.5 1195.1,495.3 1185.7,494.2 1174.4,488.6 1159.4,487.8 1150.0,483.9 1146.7,483.2 1138.3,479.0 1130.0,477.1 1120.0,470.3 1111.7,465.9 1100.8,462.3 1093.3,453.7 1083.3,448.5 1076.7,441.7 1066.7,439.0 1061.7,433.9 1055.0,431.2 1046.7,425.9 1036.7,419.7 1026.7,412.8 1020.0,403.3 1010.0,398.8 1000.0,393.5 990.0,383.1 983.3,374.6 974.2,366.8 970.0,361.7 961.7,350.6 958.3,344.6 955.0,342.9 948.3,332.6 943.3,326.2 936.7,317.4 928.3,307.5 921.7,300.3 911.7,286.1 908.3,284.2 903.3,278.7 897.5,272.4 891.3,263.5" fill="rgba(44,160,44,0.10)"/>
<polygon points="891.3,261.5 895.0,277.1 900.0,295.2 905.0,308.3 911.7,321.2 916.7,331.0 923.3,344.1 930.0,352.0 935.0,356.8 941.7,363.1 950.0,373.5 958.3,380.9 966.7,390.8 976.7,398.2 986.7,407.3 993.3,414.8 1003.3,419.7 1016.7,426.1 1026.7,432.7 1035.0,437.6 1045.0,440.1 1058.3,445.7 1068.3,448.1 1075.0,452.2 1090.0,457.9 1103.3,462.0 1120.0,463.5 1133.3,466.6 1146.7,470.7 1150.0,471.6 1161.3,474.3 1168.8,480.8 1183.8,483.4 1200.7,487.0 1204.5,489.8 1215.8,492.0 1232.7,495.1 1245.8,501.5 1260.9,502.3 1272.1,504.0 1275.9,506.8 1290.9,508.5 1309.7,511.1 1319.1,512.9 1324.7,514.2 1352.9,515.2 1356.7,517.5 1368.0,518.4 1375.5,521.1 1388.6,524.4 1402.7,524.2 1402.7,542.2 1388.6,542.0 1375.5,538.5 1368.0,535.6 1356.7,534.5 1352.9,532.0 1324.7,530.4 1319.1,528.9 1309.7,526.9 1290.9,523.9 1275.9,521.8 1272.1,519.0 1260.9,517.1 1245.8,515.9 1232.7,509.1 1215.8,505.6 1204.5,503.2 1200.7,500.4 1183.8,496.4 1168.8,493.4 1161.3,486.7 1150.0,483.8 1146.7,482.7 1133.3,478.4 1120.0,474.9 1103.3,473.0 1090.0,468.7 1075.0,462.8 1068.3,458.5 1058.3,455.9 1045.0,449.9 1035.0,447.4 1026.7,442.3 1016.7,435.5 1003.3,428.7 993.3,423.6 986.7,416.1 976.7,406.8 966.7,399.2 958.3,389.1 950.0,381.5 941.7,370.3 935.0,363.2 930.0,358.0 923.3,349.3 916.7,335.6 911.7,325.4 905.0,311.7 900.0,298.2 895.0,279.5 891.3,263.5" fill="rgba(214,39,40,0.10)"/>
<polyline points="891.3,262.5 891.3,269.7 918.3,269.7 927.5,272.2 946.7,272.2 948.3,275.0 956.7,277.5 963.3,281.7 970.0,283.8 976.7,288.7 985.0,294.7 990.0,295.0 992.5,298.3 998.3,298.3 1001.7,300.8 1008.3,300.8 1012.5,304.2 1016.7,313.3 1020.8,313.7 1024.2,320.0 1028.3,320.8 1030.0,327.0 1035.0,327.5 1041.7,337.5 1045.8,338.3 1050.0,345.8 1053.3,346.7 1058.3,357.5 1064.2,358.3 1065.8,360.0 1067.5,366.7 1070.8,367.5 1071.7,371.3 1080.8,371.3 1083.3,376.3 1090.0,376.3 1091.3,381.7 1099.2,381.7 1103.3,389.2 1104.7,401.2 1120.0,401.2 1125.0,408.7 1127.5,409.2 1128.3,416.8 1157.5,416.8 1158.5,426.0 1180.0,435.4 1195.1,445.8 1253.3,445.8 1266.5,458.4 1313.5,458.4 1324.7,477.7 1398.0,477.7 1402.7,487.1" fill="none" stroke="#1f77b4" stroke-width="1.45" stroke-linejoin="round"/>
<polyline points="891.3,262.5 899.2,262.5 909.2,265.8 913.3,270.8 920.0,274.2 925.8,275.8 935.0,279.2 940.8,285.8 950.0,289.2 956.7,298.3 965.0,308.3 970.0,310.8 976.7,316.7 986.7,323.3 993.3,331.7 1001.7,340.0 1008.3,345.0 1016.7,353.3 1025.0,357.5 1026.7,360.0 1033.3,364.2 1040.0,367.5 1045.0,372.5 1055.0,386.7 1064.2,394.2 1075.0,394.2 1080.8,399.2 1088.3,399.2 1094.2,408.0 1106.7,408.3 1111.7,411.7 1120.0,415.8 1128.3,418.3 1136.7,421.7 1141.7,431.7 1150.0,435.8 1157.5,442.0 1168.8,447.3 1183.8,447.6 1186.6,451.4 1199.8,451.8 1202.6,453.7 1210.1,454.2 1211.1,456.1 1213.9,456.1 1219.5,460.8 1228.9,460.8 1237.4,465.5 1249.6,465.9 1253.3,472.1 1259.0,477.7 1261.8,477.7 1265.6,483.3 1274.0,486.7 1295.6,486.7 1296.6,494.1 1319.1,494.1 1322.9,498.8 1336.0,498.8 1337.0,504.0 1342.6,509.3 1353.9,509.3 1354.8,514.5 1379.2,520.2 1387.7,521.0 1388.6,526.4 1402.7,526.4" fill="none" stroke="#ff7f0e" stroke-width="1.45" stroke-linejoin="round"/>
<polyline points="891.3,262.5 897.5,270.8 903.3,276.7 908.3,281.7 911.7,283.3 921.7,296.7 928.3,303.3 936.7,312.5 943.3,320.8 948.3,326.7 955.0,336.7 958.3,338.3 961.7,344.2 970.0,355.0 974.2,360.0 983.3,367.5 990.0,375.8 1000.0,385.8 1010.0,390.8 1020.0,395.0 1026.7,404.2 1036.7,410.8 1046.7,416.7 1055.0,421.7 1061.7,424.2 1066.7,429.2 1076.7,431.7 1083.3,438.3 1093.3,443.3 1100.8,451.7 1111.7,455.0 1120.0,459.2 1130.0,465.8 1138.3,467.5 1146.7,471.5 1150.0,472.1 1159.4,475.8 1174.4,476.2 1185.7,481.5 1195.1,482.4 1206.4,484.3 1219.5,484.8 1228.9,492.7 1236.4,493.7 1240.2,496.5 1249.6,498.8 1253.3,501.2 1262.7,501.2 1268.4,503.1 1271.2,507.4 1275.9,507.8 1281.5,510.6 1290.9,512.5 1309.7,512.5 1319.1,515.3 1324.7,515.3 1327.6,518.5 1335.1,518.9 1337.9,521.7 1355.8,521.7 1362.3,525.1 1371.7,525.7 1383.0,529.8 1394.3,534.5 1398.0,538.6 1402.7,539.8" fill="none" stroke="#2ca02c" stroke-width="1.45" stroke-linejoin="round"/>
<polyline points="891.3,262.5 895.0,278.3 900.0,296.7 905.0,310.0 911.7,323.3 916.7,333.3 923.3,346.7 930.0,355.0 935.0,360.0 941.7,366.7 950.0,377.5 958.3,385.0 966.7,395.0 976.7,402.5 986.7,411.7 993.3,419.2 1003.3,424.2 1016.7,430.8 1026.7,437.5 1035.0,442.5 1045.0,445.0 1058.3,450.8 1068.3,453.3 1075.0,457.5 1090.0,463.3 1103.3,467.5 1120.0,469.2 1133.3,472.5 1146.7,476.7 1150.0,477.7 1161.3,480.5 1168.8,487.1 1183.8,489.9 1200.7,493.7 1204.5,496.5 1215.8,498.8 1232.7,502.1 1245.8,508.7 1260.9,509.7 1272.1,511.5 1275.9,514.3 1290.9,516.2 1309.7,519.0 1319.1,520.9 1324.7,522.3 1352.9,523.6 1356.7,526.0 1368.0,527.0 1375.5,529.8 1388.6,533.2 1402.7,533.2" fill="none" stroke="#d62728" stroke-width="1.45" stroke-linejoin="round"/>
<rect x="905" y="531.7" width="312.3" height="80" fill="#fff" stroke="#909090" stroke-width="1"/>
<line x1="910" y1="544.1" x2="934.8" y2="544.1" stroke="#1f77b4" stroke-width="1.45"/>
<line x1="910" y1="560.2" x2="934.8" y2="560.2" stroke="#ff7f0e" stroke-width="1.45"/>
<line x1="910" y1="576.3000000000001" x2="934.8" y2="576.3000000000001" stroke="#2ca02c" stroke-width="1.45"/>
<line x1="910" y1="592.4" x2="934.8" y2="592.4" stroke="#d62728" stroke-width="1.45"/>
</g>
</svg>
<div class="b" style="left:818px;top:196px;width:585px;height:396.7px;overflow:hidden;pointer-events:none;">
<div class="t" style="left:191.60px;top:13.00px;font-size:13.4px;color:#2a3f5f;letter-spacing:-0.03px;">Overall Survival by HER2 Treatment and Testing Cohorts in Metastatic NSCLC</div>
<div class="t" style="left:121.70px;top:343.00px;font-size:10.8px;color:#2a3f5f;letter-spacing:0.36px;">HER2 therapy + Test during therapy (N=134)</div>
<div class="t" style="left:121.70px;top:359.00px;font-size:10.8px;color:#2a3f5f;letter-spacing:0.36px;">HER2 therapy + Test not during therapy (N=567)</div>
<div class="t" style="left:121.70px;top:375.00px;font-size:10.8px;color:#2a3f5f;letter-spacing:0.34px;">No HER2 therapy + Test during therapy (N=750)</div>
<div class="t" style="left:121.70px;top:391.00px;font-size:10.8px;color:#2a3f5f;letter-spacing:0.34px;">No HER2 therapy + Test not during therapy (N=2810)</div>
<div class="t" style="left:-327.10px;width:400px;text-align:right;top:61.00px;font-size:10.8px;color:#2a3f5f;letter-spacing:0.55px;">1</div>
<div class="t" style="left:-327.10px;width:400px;text-align:right;top:130.00px;font-size:10.8px;color:#2a3f5f;letter-spacing:0.55px;">0.8</div>
<div class="t" style="left:-327.10px;width:400px;text-align:right;top:200.00px;font-size:10.8px;color:#2a3f5f;letter-spacing:0.55px;">0.6</div>
<div class="t" style="left:-327.10px;width:400px;text-align:right;top:270.00px;font-size:10.8px;color:#2a3f5f;letter-spacing:0.55px;">0.4</div>
<div class="t" style="left:-327.10px;width:400px;text-align:right;top:340.00px;font-size:10.8px;color:#2a3f5f;letter-spacing:0.55px;">0.2</div>
</div>
<div class="t" style="left:754.60px;top:429.50px;width:200px;height:14px;text-align:center;font-size:12.4px;line-height:14px;color:#2a3f5f;letter-spacing:0.43px;transform:rotate(-90deg);transform-origin:50% 50%;">Survival Probability</div>
<div class="b" style="left:93.00px;top:738.00px;width:1347.00px;height:16.20px;background:linear-gradient(to bottom, rgba(0,0,0,0) 0%, rgba(0,0,0,0.04) 50%, rgba(0,0,0,0.16) 100%);pointer-events:none;"></div>
<div class="b" style="left:0.00px;top:0.00px;width:1440.00px;height:1.00px;background:#0a0a0a;"></div>
<div class="b" style="left:1434.00px;top:296.00px;width:7.00px;height:76.00px;background:rgba(0,0,0,0.035);border-radius:6px 0 0 6px;filter:blur(1.5px);"></div>
<div class="b" style="left:0.00px;top:754.00px;width:1440.00px;height:2.00px;background:#0a0a0a;"></div>
<div class="b" style="left:0.00px;top:753.00px;width:93.00px;height:1.00px;background:#ffffff;"></div>
<div class="b" style="left:0.00px;top:754.00px;width:50.00px;height:1.00px;background:#d3a48e;"></div>
<svg class="i" style="left:0;top:744px" width="10" height="11" viewBox="0 0 10 11"><path d="M0 2 Q0.3 9.6 7 10 L0 10 Z" fill="#d9ab96"/></svg>
</body></html>
